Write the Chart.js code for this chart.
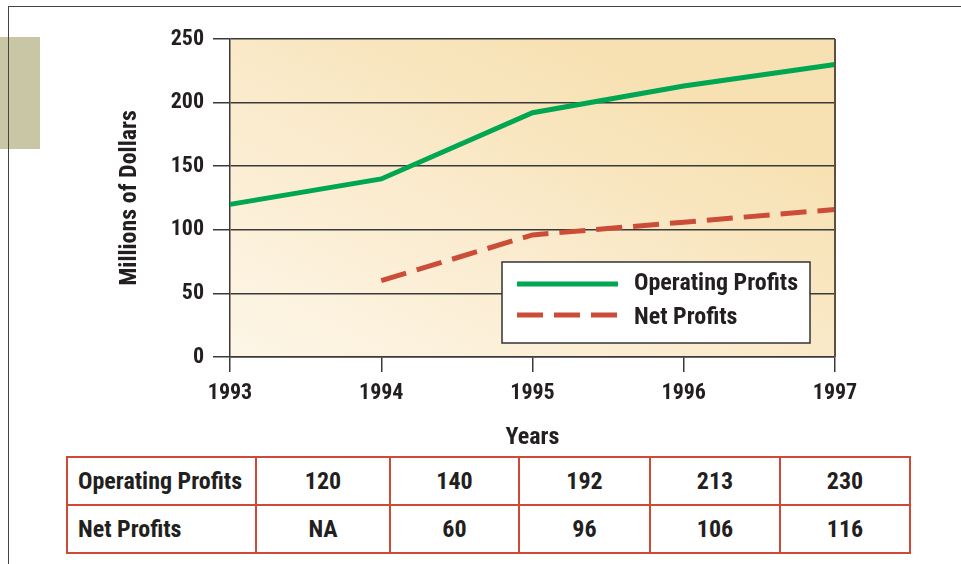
<!DOCTYPE html>
<html>
<head>
<meta charset="utf-8">
<script src="https://cdn.jsdelivr.net/npm/chart.js@4.4.1/dist/chart.umd.min.js"></script>
<style>
  body { margin: 0; background: #fff; width: 961px; height: 564px; position: relative; overflow: hidden;
         font-family: Roboto, sans-serif; font-stretch: condensed; }
  #frameTop { position: absolute; left: 8px; top: 6px; right: 0; height: 1px; background: #444; }
  #frameLeft { position: absolute; left: 8px; top: 6px; bottom: 0; width: 1px; background: #444; z-index: 2; }
  #tab { position: absolute; left: 0; top: 37px; width: 40px; height: 112px; background: #c9c6a5; }
  #wrap { position: absolute; left: 0; top: 0; width: 961px; height: 456px; }
  table { position: absolute; left: 66px; top: 456px; width: 843px; border-collapse: collapse; table-layout: fixed; }
  td { border: 2.5px solid #cc4a36; height: 46px; padding: 0; text-align: center;
       font-weight: bold; font-size: 24px; color: #231f20; }
  td.name { text-align: left; padding-left: 10px; }
</style>
</head>
<body>
<div id="tab"></div>
<div id="frameTop"></div>
<div id="frameLeft"></div>
<div id="wrap"><canvas id="myChart" width="961" height="456"></canvas></div>
<table id="dataTable"></table>
<script>
var years = ["1993", "1994", "1995", "1996", "1997"];
var operatingProfits = [120, 140, 192, 213, 230];
var netProfits = [null, 60, 96, 106, 116];
var yTicks = [0, 50, 100, 150, 200, 250];

var fontFamily = "Roboto, sans-serif";
var boldNarrow = "bold condensed"; // weight + stretch, ends up in the canvas font string
var ink = "#231f20";
var rule = "#3a3a3a";

// shaded plot background and right edge of the frame
var plotBackground = {
  id: "plotBackground",
  beforeDraw: function (chart) {
    var a = chart.chartArea, ctx = chart.ctx;
    var g = ctx.createLinearGradient(a.left + 60, a.bottom + 40, a.left + 260, a.top - 40);
    g.addColorStop(0, "#fdf6e8");
    g.addColorStop(0.5, "#fbecd0");
    g.addColorStop(1, "#f7e1b2");
    ctx.save();
    ctx.fillStyle = g;
    ctx.fillRect(a.left, a.top, a.right - a.left, a.bottom - a.top);
    ctx.restore();
  },
  afterDatasetsDraw: function (chart) {
    var a = chart.chartArea, ctx = chart.ctx;
    ctx.save();
    ctx.strokeStyle = "#5e5040";
    ctx.lineWidth = 2;
    ctx.beginPath();
    ctx.moveTo(a.right, a.top);
    ctx.lineTo(a.right, a.bottom);
    ctx.stroke();
    ctx.restore();
  }
};

// boxed legend in the lower right of the plot
var boxLegend = {
  id: "boxLegend",
  afterDraw: function (chart) {
    var a = chart.chartArea, ctx = chart.ctx;
    var w = 308, h = 81;
    var x = a.right - 25 - w, y = a.bottom - 14 - h;
    ctx.save();
    ctx.fillStyle = "#fff";
    ctx.fillRect(x, y, w, h);
    ctx.strokeStyle = "#333";
    ctx.lineWidth = 1.5;
    ctx.strokeRect(x, y, w, h);
    chart.data.datasets.forEach(function (ds, i) {
      var ly = y + 22 + i * 31;
      ctx.strokeStyle = ds.borderColor;
      ctx.lineWidth = 5;
      ctx.setLineDash(ds.borderDash || []);
      ctx.beginPath();
      ctx.moveTo(x + 15, ly);
      ctx.lineTo(x + 116, ly);
      ctx.stroke();
      ctx.setLineDash([]);
      ctx.fillStyle = ink;
      ctx.font = boldNarrow + " 24px " + fontFamily;
      ctx.textBaseline = "middle";
      ctx.fillText(ds.label, x + 132, ly + (i ? 3 : 0));
    });
    ctx.restore();
  }
};

var tickFont = { family: fontFamily, size: 22, weight: boldNarrow };
var titleFont = { family: fontFamily, size: 24, weight: boldNarrow };

new Chart("myChart", {
  type: "line",
  data: {
    labels: years,
    datasets: [{
      label: "Operating Profits",
      data: operatingProfits,
      borderColor: "#00a651",
      borderWidth: 5,
      pointRadius: 0,
      tension: 0
    }, {
      label: "Net Profits",
      data: netProfits,
      borderColor: "#cc4d37",
      borderWidth: 5,
      borderDash: [26, 11],
      pointRadius: 0,
      tension: 0
    }]
  },
  options: {
    responsive: false,
    animation: false,
    layout: { padding: { left: 106, right: 126, top: 39, bottom: 0 } },
    plugins: { legend: { display: false }, tooltip: { enabled: false } },
    scales: {
      x: {
        offset: false,
        afterFit: function (s) { s.height = 99; },
        grid: { drawOnChartArea: false, drawTicks: true, tickLength: 15, color: rule, lineWidth: 1.5 },
        border: { color: rule, width: 1.5 },
        ticks: { color: ink, padding: 8, font: tickFont, maxRotation: 0 },
        title: { display: true, text: "Years", color: ink, padding: { top: 4 }, font: titleFont }
      },
      y: {
        min: 0, max: 250,
        afterFit: function (s) { s.width = 124; },
        afterBuildTicks: function (s) { s.ticks = yTicks.map(function (v) { return { value: v }; }); },
        grid: { color: rule, lineWidth: 1.5, tickLength: 17 },
        border: { color: rule, width: 1.5 },
        ticks: { color: ink, padding: 9, font: tickFont },
        title: { display: true, text: "Millions of Dollars", color: ink, padding: { top: 10 }, font: titleFont }
      }
    }
  },
  plugins: [plotBackground, boxLegend]
});

// values table under the chart
var colWidths = [189, 134, 129, 131, 130, 130];
var rows = [["Operating Profits", operatingProfits], ["Net Profits", netProfits]];
var table = document.getElementById("dataTable");
var colgroup = document.createElement("colgroup");
colWidths.forEach(function (w) {
  var col = document.createElement("col");
  col.style.width = w + "px";
  colgroup.appendChild(col);
});
table.appendChild(colgroup);
rows.forEach(function (r) {
  var tr = document.createElement("tr");
  var name = document.createElement("td");
  name.className = "name";
  name.textContent = r[0];
  tr.appendChild(name);
  r[1].forEach(function (v) {
    var td = document.createElement("td");
    td.textContent = v === null ? "NA" : v;
    tr.appendChild(td);
  });
  table.appendChild(tr);
});
</script>
</body>
</html>
